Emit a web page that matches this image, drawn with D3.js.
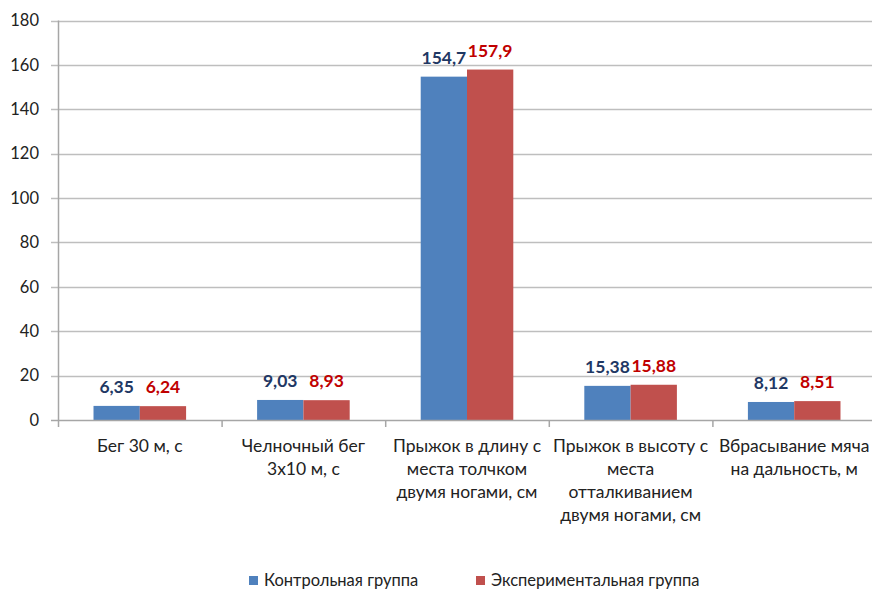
<!DOCTYPE html>
<html><head><meta charset="utf-8">
<script src="https://cdn.jsdelivr.net/npm/d3@7"></script>
<style>html,body{margin:0;padding:0;background:#fff;overflow:hidden}</style>
</head><body>
<svg id="c" width="872" height="592"></svg>
<script>
const categories = [
  "Бег 30 м, с",
  "Челночный бег\n3х10 м, с",
  "Прыжок в длину с\nместа толчком\nдвумя ногами, см",
  "Прыжок в высоту с\nместа\nотталкиванием\nдвумя ногами, см",
  "Вбрасывание мяча\nна дальность, м"
];
const seriesNames = ["Контрольная группа", "Экспериментальная группа"];
const controlValues = [6.35, 9.03, 154.7, 15.38, 8.12];
const experimentalValues = [6.24, 8.93, 157.9, 15.88, 8.51];
const yTicks = [0, 20, 40, 60, 80, 100, 120, 140, 160, 180];

(function () {
const barColors = ["#4F81BD", "#C0504D"];
const labelColors = ["#1F3864", "#C00000"];
const font = "Lato, 'Open Sans', sans-serif";

const svg = d3.select("#c");
const mLeft = 58, mRight = 876, mTop = 20.5, mBottom = 420;

const x = d3.scaleBand().domain(categories).range([mLeft, mRight]).paddingInner(0).paddingOuter(0);
const y = d3.scaleLinear().domain([0, 180]).range([mBottom, mTop]);
const inner = d3.scaleBand().domain([0, 1]).range([0, x.bandwidth()]).paddingOuter(0.767).paddingInner(0);

// gridlines
svg.append("g").selectAll("line").data(yTicks.filter(d => d > 0)).join("line")
  .attr("x1", 51).attr("x2", 872)
  .attr("y1", d => Math.round(y(d)) + 0.5).attr("y2", d => Math.round(y(d)) + 0.5)
  .attr("stroke", "#BEBEBE").attr("stroke-width", 1.5);

// y tick labels
svg.append("g").selectAll("text").data(yTicks).join("text")
  .attr("x", 39).attr("y", d => y(d)).attr("dy", "0.35em")
  .attr("text-anchor", "end").attr("font-family", font).attr("font-size", 16.5)
  .attr("fill", "#222").text(d => d);

// bars
const series = [controlValues, experimentalValues];
series.forEach((vals, si) => {
  svg.append("g").selectAll("rect").data(vals).join("rect")
    .attr("x", (d, i) => x(categories[i]) + inner(si))
    .attr("width", inner.bandwidth())
    .attr("y", d => y(d))
    .attr("height", d => y(0) - y(d))
    .attr("fill", barColors[si]);
  svg.append("g").selectAll("text").data(vals).join("text")
    .attr("x", (d, i) => x(categories[i]) + inner(si) + inner.bandwidth() / 2)
    .attr("y", d => y(d) - 13)
    .attr("text-anchor", "middle").attr("font-family", font).attr("font-size", 17.5)
    .attr("font-weight", "bold").attr("fill", labelColors[si])
    .text(d => String(d).replace(".", ","));
});

// y axis line
svg.append("line").attr("x1", mLeft + 0.5).attr("x2", mLeft + 0.5).attr("y1", mTop).attr("y2", mBottom)
  .attr("stroke", "#A6A6A6").attr("stroke-width", 1.5);
// x axis line
svg.append("line").attr("x1", 51).attr("x2", 872).attr("y1", mBottom + 0.5).attr("y2", mBottom + 0.5)
  .attr("stroke", "#A6A6A6").attr("stroke-width", 1.5);
// category ticks
svg.append("g").selectAll("line").data(categories).join("line")
  .attr("x1", d => x(d) + 0.5).attr("x2", d => x(d) + 0.5)
  .attr("y1", mBottom).attr("y2", mBottom + 7)
  .attr("stroke", "#A6A6A6").attr("stroke-width", 1.5);

// category labels
const cl = svg.append("g").selectAll("text").data(categories).join("text")
  .attr("text-anchor", "middle").attr("font-family", font).attr("font-size", 17.5).attr("fill", "#222");
cl.each(function(d) {
  const t = d3.select(this);
  d.split("\n").forEach((line, i) => {
    t.append("tspan").attr("x", x(d) + x.bandwidth() / 2).attr("y", 452 + i * 23).text(line);
  });
});

// legend
const legendX = [249, 476];
seriesNames.forEach((n, i) => {
  svg.append("rect").attr("x", legendX[i]).attr("y", 576).attr("width", 9).attr("height", 9).attr("fill", barColors[i]);
  svg.append("text").attr("x", legendX[i] + 15).attr("y", 586).attr("font-family", font)
    .attr("font-size", 16.5).attr("fill", "#222").text(n);
});
})();
</script>
</body></html>
